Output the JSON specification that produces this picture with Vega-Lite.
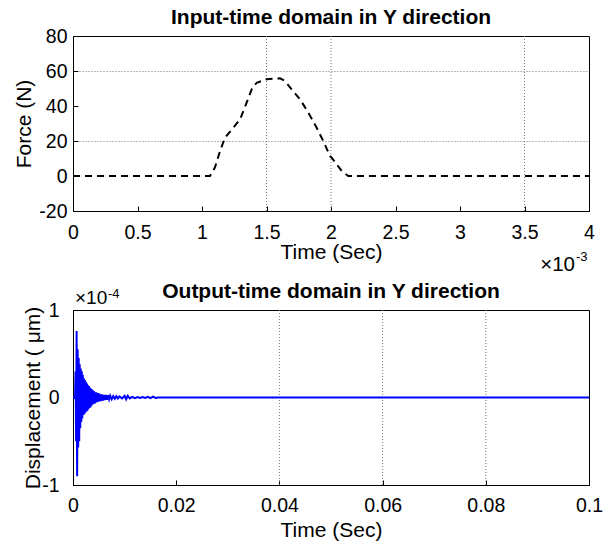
{
  "$schema": "https://vega.github.io/schema/vega-lite/v6.json",
  "padding": {"left": 13, "top": 6, "right": 5, "bottom": 0},
  "spacing": 4,
  "config": {
    "font": "Liberation Sans",
    "view": {"stroke": "black", "strokeWidth": 1},
    "axis": {
      "domainColor": "black",
      "tickColor": "black",
      "tickSize": -5,
      "labelColor": "black",
      "labelFontSize": 19.5,
      "labelFont": "Liberation Sans",
      "titleFont": "Liberation Sans",
      "titleFontSize": 21,
      "titleFontWeight": "normal",
      "titleColor": "black",
      "grid": false,
      "labelFlush": false,
      "labelOverlap": false,
      "labelBound": false,
      "labelExpr": "'' + datum.value"
    },
    "axisY": {"labelOverlap": false},
    "title": {"font": "Liberation Sans", "fontSize": 21, "fontWeight": "bold", "color": "black", "anchor": "middle", "frame": "group"}
  },
  "vconcat": [
    {
      "title": {"text": "Input-time domain in Y direction", "offset": -2},
      "width": 516,
      "height": 175,
      "layer": [
        {
          "data": {"values": [{"t": 1.5}, {"t": 2}, {"t": 3.5}]},
          "mark": {"type": "rule", "color": "#777777", "strokeDash": [1, 2], "strokeWidth": 1},
          "encoding": {
            "x": {"field": "t", "type": "quantitative", "scale": {"domain": [0, 4], "nice": false},
                  "axis": {"values": [0, 0.5, 1, 1.5, 2, 2.5, 3, 3.5, 4], "title": "Time (Sec)", "labelPadding": 17, "titlePadding": 0, "labelOverlap": false}}
          }
        },
        {
          "data": {"values": [
            {"t": 0, "f": 0}, {"t": 1.062, "f": 0}, {"t": 1.10, "f": 4.8}, {"t": 1.14, "f": 14.3},
            {"t": 1.178, "f": 21.9}, {"t": 1.243, "f": 27.6}, {"t": 1.295, "f": 32.4}, {"t": 1.346, "f": 41.9},
            {"t": 1.385, "f": 49.5}, {"t": 1.424, "f": 53.3}, {"t": 1.50, "f": 55.3}, {"t": 1.605, "f": 55.8},
            {"t": 1.643, "f": 54.3}, {"t": 1.695, "f": 49.5}, {"t": 1.76, "f": 43.8}, {"t": 1.824, "f": 36.2},
            {"t": 1.889, "f": 27.6}, {"t": 1.94, "f": 20}, {"t": 1.992, "f": 11.4}, {"t": 2.005, "f": 10.5},
            {"t": 2.083, "f": 2.9}, {"t": 2.134, "f": 0}, {"t": 4, "f": 0}
          ]},
          "mark": {"type": "line", "color": "black", "strokeWidth": 2, "strokeDash": [7, 5]},
          "encoding": {
            "x": {"field": "t", "type": "quantitative", "scale": {"domain": [0, 4], "nice": false},
                  "axis": {"values": [0, 0.5, 1, 1.5, 2, 2.5, 3, 3.5, 4], "title": "Time (Sec)", "labelPadding": 17, "titlePadding": 0, "labelOverlap": false}},
            "y": {"field": "f", "type": "quantitative", "scale": {"domain": [-20, 80], "nice": false},
                  "axis": {"values": [-20, 0, 20, 40, 60, 80], "title": "Force (N)", "labelPadding": 11, "titlePadding": 4, "labelOverlap": false,
                           "grid": true, "gridColor": "#777777", "gridDash": [1, 2], "gridWidth": 1,
                           "gridOpacity": {"condition": {"test": "datum.value === 20 || datum.value === 60", "value": 1}, "value": 0}}}
          }
        },
        {
          "data": {"values": [{"s": "×10", "px": 4, "py": -20}]},
          "mark": {"type": "text", "align": "right", "baseline": "alphabetic", "fontSize": 20.5, "dx": -14, "dy": 60, "color": "black"},
          "encoding": {
            "text": {"field": "s"},
            "x": {"field": "px", "type": "quantitative", "scale": {"domain": [0, 4], "nice": false},
                  "axis": {"values": [0, 0.5, 1, 1.5, 2, 2.5, 3, 3.5, 4], "title": "Time (Sec)", "labelPadding": 17, "titlePadding": 0, "labelOverlap": false}},
            "y": {"field": "py", "type": "quantitative", "scale": {"domain": [-20, 80], "nice": false},
                  "axis": {"values": [-20, 0, 20, 40, 60, 80], "title": "Force (N)", "labelPadding": 11, "titlePadding": 4, "labelOverlap": false,
                           "grid": true, "gridColor": "#777777", "gridDash": [1, 2], "gridWidth": 1,
                           "gridOpacity": {"condition": {"test": "datum.value === 20 || datum.value === 60", "value": 1}, "value": 0}}}
          }
        },
        {
          "data": {"values": [{"s": "-3", "px": 4, "py": -20}]},
          "mark": {"type": "text", "align": "left", "baseline": "alphabetic", "fontSize": 13, "dx": -13, "dy": 50, "color": "black"},
          "encoding": {
            "text": {"field": "s"},
            "x": {"field": "px", "type": "quantitative", "scale": {"domain": [0, 4], "nice": false},
                  "axis": {"values": [0, 0.5, 1, 1.5, 2, 2.5, 3, 3.5, 4], "title": "Time (Sec)", "labelPadding": 17, "titlePadding": 0, "labelOverlap": false}},
            "y": {"field": "py", "type": "quantitative", "scale": {"domain": [-20, 80], "nice": false},
                  "axis": {"values": [-20, 0, 20, 40, 60, 80], "title": "Force (N)", "labelPadding": 11, "titlePadding": 4, "labelOverlap": false,
                           "grid": true, "gridColor": "#777777", "gridDash": [1, 2], "gridWidth": 1,
                           "gridOpacity": {"condition": {"test": "datum.value === 20 || datum.value === 60", "value": 1}, "value": 0}}}
          }
        }
      ]
    },
    {
      "title": {"text": "Output-time domain in Y direction", "offset": -14},
      "width": 516,
      "height": 175,
      "layer": [
        {
          "data": {"values": [{"t": 0.04}, {"t": 0.06}, {"t": 0.08}]},
          "mark": {"type": "rule", "color": "#777777", "strokeDash": [1, 2], "strokeWidth": 1},
          "encoding": {
            "x": {"field": "t", "type": "quantitative", "scale": {"domain": [0, 0.1], "nice": false},
                  "axis": {"values": [0, 0.02, 0.04, 0.06, 0.08, 0.1], "title": "Time (Sec)", "labelPadding": 16, "titlePadding": 5, "labelOverlap": false}}
          }
        },
        {
          "data": {"values": [
            {"t": 0, "d": 0}, {"t": 0.0004, "d": 0}, {"t": 0.0005, "d": 0.3}, {"t": 0.0006, "d": -0.5},
            {"t": 0.0007, "d": 0.76}, {"t": 0.0008, "d": -0.9}, {"t": 0.0009, "d": 0.55}, {"t": 0.001, "d": -0.57},
            {"t": 0.0011, "d": 0.45}, {"t": 0.0012, "d": -0.5}, {"t": 0.0013, "d": 0.38}, {"t": 0.0014, "d": -0.35},
            {"t": 0.0015, "d": 0.33}, {"t": 0.0016, "d": -0.28}, {"t": 0.0017, "d": 0.3}, {"t": 0.0018, "d": -0.24},
            {"t": 0.0019, "d": 0.26}, {"t": 0.002, "d": -0.2}, {"t": 0.0021, "d": 0.22}, {"t": 0.0022, "d": -0.19},
            {"t": 0.0023, "d": 0.2}, {"t": 0.0024, "d": -0.17}, {"t": 0.0025, "d": 0.18}, {"t": 0.0026, "d": -0.16},
            {"t": 0.0027, "d": 0.16}, {"t": 0.0028, "d": -0.15}, {"t": 0.0029, "d": 0.14}, {"t": 0.003, "d": -0.13},
            {"t": 0.0031, "d": 0.13}, {"t": 0.0032, "d": -0.12}, {"t": 0.0033, "d": 0.11}, {"t": 0.0034, "d": -0.11},
            {"t": 0.0035, "d": 0.1}, {"t": 0.0036, "d": -0.09}, {"t": 0.0037, "d": 0.09}, {"t": 0.0038, "d": -0.08},
            {"t": 0.0039, "d": 0.08}, {"t": 0.004, "d": -0.07}, {"t": 0.0041, "d": 0.07}, {"t": 0.0042, "d": -0.07},
            {"t": 0.0043, "d": 0.06}, {"t": 0.0044, "d": -0.06}, {"t": 0.0045, "d": 0.06}, {"t": 0.0046, "d": -0.05},
            {"t": 0.0047, "d": 0.05}, {"t": 0.0048, "d": -0.05}, {"t": 0.0049, "d": 0.05}, {"t": 0.005, "d": -0.045},
            {"t": 0.0052, "d": 0.04}, {"t": 0.0054, "d": -0.04}, {"t": 0.0056, "d": 0.035}, {"t": 0.0058, "d": -0.035},
            {"t": 0.006, "d": 0.03}, {"t": 0.0062, "d": -0.03}, {"t": 0.0064, "d": 0.03}, {"t": 0.0066, "d": -0.025},
            {"t": 0.0068, "d": 0.025}, {"t": 0.007, "d": -0.02}, {"t": 0.0072, "d": 0.02}, {"t": 0.0075, "d": -0.02},
            {"t": 0.0078, "d": 0.015}, {"t": 0.0081, "d": -0.015}, {"t": 0.0084, "d": 0.015}, {"t": 0.0087, "d": -0.012},
            {"t": 0.009, "d": 0.012}, {"t": 0.0095, "d": -0.01}, {"t": 0.01, "d": 0.02}, {"t": 0.0103, "d": -0.02},
            {"t": 0.0106, "d": 0.02}, {"t": 0.011, "d": -0.01}, {"t": 0.0115, "d": 0.008}, {"t": 0.012, "d": -0.008},
            {"t": 0.0125, "d": 0.006}, {"t": 0.013, "d": -0.006}, {"t": 0.0135, "d": 0.005}, {"t": 0.014, "d": -0.005},
            {"t": 0.0145, "d": 0.008}, {"t": 0.015, "d": -0.008}, {"t": 0.0155, "d": 0.01}, {"t": 0.016, "d": -0.005},
            {"t": 0.0165, "d": 0}, {"t": 0.1, "d": 0}
          ]},
          "mark": {"type": "line", "color": "#0000ff", "strokeWidth": 2},
          "encoding": {
            "x": {"field": "t", "type": "quantitative", "scale": {"domain": [0, 0.1], "nice": false},
                  "axis": {"values": [0, 0.02, 0.04, 0.06, 0.08, 0.1], "title": "Time (Sec)", "labelPadding": 16, "titlePadding": 5, "labelOverlap": false}},
            "y": {"field": "d", "type": "quantitative", "scale": {"domain": [-1, 1], "nice": false},
                  "axis": {"values": [-1, 0, 1], "title": "Displacement ( μm)", "labelPadding": 19, "titlePadding": -2, "labelOverlap": false}}
          }
        },
        {
          "data": {"values": [{"s": "×10"}]},
          "mark": {"type": "text", "align": "left", "baseline": "alphabetic", "fontSize": 19, "dx": 2, "dy": -6, "color": "black"},
          "encoding": {"text": {"field": "s"}, "x": {"datum": 0}, "y": {"datum": 1}}
        },
        {
          "data": {"values": [{"s": "-4"}]},
          "mark": {"type": "text", "align": "left", "baseline": "alphabetic", "fontSize": 13, "dx": 35, "dy": -12, "color": "black"},
          "encoding": {"text": {"field": "s"}, "x": {"datum": 0}, "y": {"datum": 1}}
        }
      ]
    }
  ]
}
